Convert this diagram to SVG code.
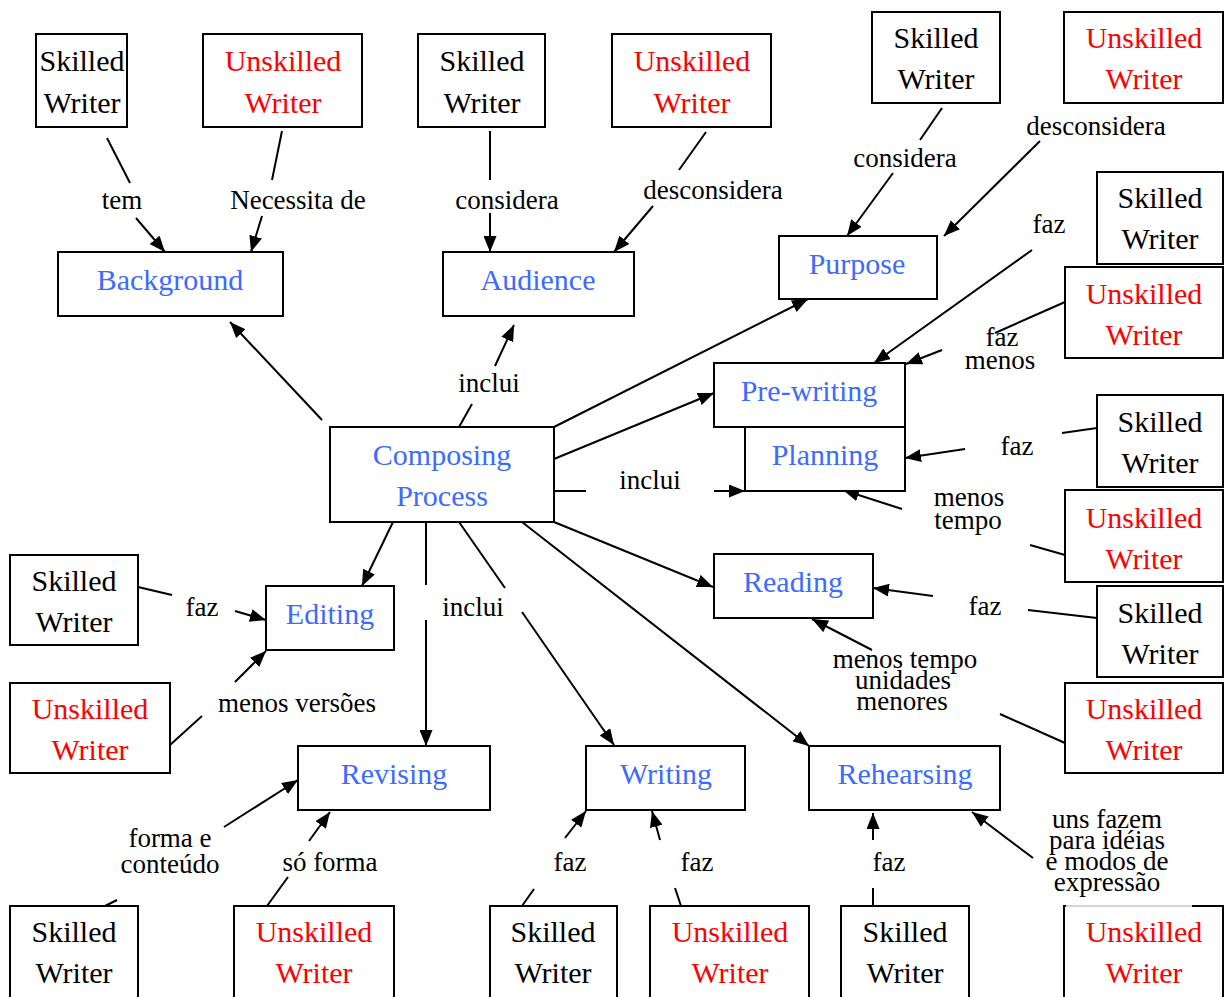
<svg xmlns="http://www.w3.org/2000/svg" width="1230" height="997" viewBox="0 0 1230 997" font-family="'Liberation Serif', 'Times New Roman', 'DejaVu Serif', serif">
<defs>
<marker id="ah" markerUnits="userSpaceOnUse" markerWidth="17" markerHeight="13" refX="16" refY="6.5" orient="auto">
<path d="M0,0 L16,6.5 L0,13 z" fill="#000"/>
</marker>
<style>
.box{fill:#fff;stroke:#000;stroke-width:2}
text{font-family:'Liberation Serif','Times New Roman','DejaVu Serif',serif;text-anchor:middle;dominant-baseline:central}
.n{font-size:30px;fill:#000}
.u{font-size:30px;fill:#ff0000}
.c{font-size:30px;fill:#3d6bff}
.l{font-size:27px;fill:#000}
.e{stroke:#000;stroke-width:2;fill:none}
.a{stroke:#000;stroke-width:2;fill:none;marker-end:url(#ah)}
</style>
</defs>
<rect width="1230" height="997" fill="#fff"/>

<g id="connectors">
<line class="e" x1="107" y1="138" x2="130" y2="183"/>
<line class="a" x1="136" y1="218" x2="165" y2="252"/>
<line class="e" x1="282" y1="131" x2="272" y2="180"/>
<line class="a" x1="262" y1="216" x2="251" y2="252"/>
<line class="e" x1="490" y1="131" x2="490" y2="180"/>
<line class="a" x1="490" y1="213" x2="490" y2="252"/>
<line class="e" x1="706" y1="132" x2="679" y2="170"/>
<line class="a" x1="653" y1="206" x2="614" y2="252"/>
<line class="e" x1="942" y1="108" x2="920" y2="140"/>
<line class="a" x1="893" y1="173" x2="847" y2="236"/>
<line class="a" x1="1040" y1="141" x2="944" y2="236"/>
<line class="a" x1="322" y1="420" x2="230" y2="322"/>
<line class="e" x1="459" y1="427" x2="472" y2="404"/>
<line class="a" x1="495" y1="366" x2="514" y2="325"/>
<line class="a" x1="554" y1="427" x2="808" y2="299"/>
<line class="a" x1="554" y1="459" x2="714" y2="393"/>
<line class="e" x1="554" y1="491" x2="586" y2="491"/>
<line class="a" x1="714" y1="491" x2="745" y2="491"/>
<line class="a" x1="554" y1="522" x2="713" y2="587"/>
<line class="a" x1="522" y1="522" x2="809" y2="746"/>
<line class="e" x1="459" y1="522" x2="505" y2="588"/>
<line class="a" x1="522" y1="612" x2="614" y2="745"/>
<line class="e" x1="426" y1="522" x2="426" y2="585"/>
<line class="a" x1="426" y1="620" x2="426" y2="746"/>
<line class="a" x1="393" y1="522" x2="362" y2="586"/>
<line class="a" x1="1032" y1="250" x2="874" y2="363"/>
<line class="e" x1="1065" y1="302" x2="995" y2="333"/>
<line class="a" x1="942" y1="350" x2="906" y2="364"/>
<line class="e" x1="1097" y1="428" x2="1062" y2="433"/>
<line class="a" x1="965" y1="449" x2="905" y2="458"/>
<line class="e" x1="1065" y1="555" x2="1030" y2="545"/>
<line class="a" x1="902" y1="509" x2="843" y2="490"/>
<line class="e" x1="1097" y1="618" x2="1028" y2="610"/>
<line class="a" x1="933" y1="596" x2="873" y2="588"/>
<line class="e" x1="1065" y1="743" x2="1000" y2="714"/>
<line class="a" x1="872" y1="650" x2="812" y2="619"/>
<line class="e" x1="873" y1="906" x2="873" y2="888"/>
<line class="a" x1="873" y1="840" x2="873" y2="813"/>
<line class="a" x1="1033" y1="858" x2="972" y2="812"/>
<line class="e" x1="522" y1="906" x2="534" y2="889"/>
<line class="a" x1="565" y1="838" x2="586" y2="811"/>
<line class="e" x1="681" y1="906" x2="675" y2="888"/>
<line class="a" x1="660" y1="840" x2="652" y2="811"/>
<line class="e" x1="105" y1="906" x2="117" y2="900"/>
<line class="a" x1="224" y1="827" x2="298" y2="780"/>
<line class="e" x1="267" y1="906" x2="288" y2="877"/>
<line class="a" x1="309" y1="841" x2="330" y2="812"/>
<line class="e" x1="138" y1="587" x2="172" y2="595"/>
<line class="a" x1="235" y1="611" x2="266" y2="620"/>
<line class="e" x1="170" y1="745" x2="202" y2="716"/>
<line class="a" x1="235" y1="682" x2="266" y2="651"/>
</g>

<g id="labels">
<text class="l" x="122" y="200">tem</text>
<text class="l" x="298" y="200">Necessita de</text>
<text class="l" x="507" y="200">considera</text>
<text class="l" x="713" y="190">desconsidera</text>
<text class="l" x="905" y="158">considera</text>
<text class="l" x="1096" y="126">desconsidera</text>
<text class="l" x="1049" y="224">faz</text>
<text class="l" x="1002" y="337">faz</text>
<text class="l" x="1000" y="360">menos</text>
<text class="l" x="489" y="383">inclui</text>
<text class="l" x="650" y="480">inclui</text>
<text class="l" x="1017" y="446">faz</text>
<text class="l" x="969" y="497">menos</text>
<text class="l" x="968" y="520">tempo</text>
<text class="l" x="985" y="606">faz</text>
<text class="l" x="905" y="659">menos tempo</text>
<text class="l" x="903" y="680">unidades</text>
<text class="l" x="902" y="701">menores</text>
<text class="l" x="473" y="607">inclui</text>
<text class="l" x="202" y="607">faz</text>
<text class="l" x="297" y="703">menos versões</text>
<text class="l" x="170" y="838">forma e</text>
<text class="l" x="170" y="864">conteúdo</text>
<text class="l" x="330" y="862">só forma</text>
<text class="l" x="570" y="862">faz</text>
<text class="l" x="697" y="862">faz</text>
<text class="l" x="889" y="862">faz</text>
<text class="l" x="1107" y="819">uns fazem</text>
<text class="l" x="1107" y="840">para idéias</text>
<text class="l" x="1107" y="861">e modos de</text>
<text class="l" x="1107" y="882">expressão</text>
</g>

<g id="background"><rect class="box" x="58" y="252" width="225" height="64"/><text class="c" x="170" y="279">Background</text></g>
<g id="audience"><rect class="box" x="443" y="252" width="191" height="64"/><text class="c" x="538" y="279">Audience</text></g>
<g id="purpose"><rect class="box" x="779" y="236" width="158" height="63"/><text class="c" x="857" y="263">Purpose</text></g>
<g id="prewriting"><rect class="box" x="714" y="363" width="191" height="64"/><text class="c" x="809" y="390">Pre-writing</text></g>
<g id="planning"><rect class="box" x="745" y="427" width="160" height="64"/><text class="c" x="825" y="454">Planning</text></g>
<g id="composing"><rect class="box" x="330" y="427" width="224" height="95"/><text class="c" x="442" y="454">Composing</text><text class="c" x="442" y="495">Process</text></g>
<g id="reading"><rect class="box" x="714" y="554" width="159" height="64"/><text class="c" x="793" y="581">Reading</text></g>
<g id="editing"><rect class="box" x="266" y="586" width="128" height="64"/><text class="c" x="330" y="613">Editing</text></g>
<g id="revising"><rect class="box" x="298" y="746" width="192" height="64"/><text class="c" x="394" y="773">Revising</text></g>
<g id="writing"><rect class="box" x="586" y="746" width="159" height="64"/><text class="c" x="666" y="773">Writing</text></g>
<g id="rehearsing"><rect class="box" x="809" y="746" width="191" height="64"/><text class="c" x="905" y="773">Rehearsing</text></g>

<g id="sw1"><rect class="box" x="36" y="34" width="91" height="93"/><text class="n" x="82" y="60">Skilled</text><text class="n" x="82" y="102">Writer</text></g>
<g id="uw1"><rect class="box" x="203" y="34" width="159" height="93"/><text class="u" x="283" y="60">Unskilled</text><text class="u" x="283" y="102">Writer</text></g>
<g id="sw2"><rect class="box" x="418" y="34" width="127" height="93"/><text class="n" x="482" y="60">Skilled</text><text class="n" x="482" y="102">Writer</text></g>
<g id="uw2"><rect class="box" x="612" y="34" width="159" height="93"/><text class="u" x="692" y="60">Unskilled</text><text class="u" x="692" y="102">Writer</text></g>
<g id="sw3"><rect class="box" x="872" y="12" width="128" height="91"/><text class="n" x="936" y="37">Skilled</text><text class="n" x="936" y="78">Writer</text></g>
<g id="uw3"><rect class="box" x="1064" y="12" width="159" height="91"/><text class="u" x="1144" y="37">Unskilled</text><text class="u" x="1144" y="78">Writer</text></g>
<g id="sw4"><rect class="box" x="1097" y="172" width="126" height="92"/><text class="n" x="1160" y="197">Skilled</text><text class="n" x="1160" y="238">Writer</text></g>
<g id="uw4"><rect class="box" x="1065" y="267" width="158" height="91"/><text class="u" x="1144" y="293">Unskilled</text><text class="u" x="1144" y="334">Writer</text></g>
<g id="sw5"><rect class="box" x="1097" y="395" width="126" height="92"/><text class="n" x="1160" y="421">Skilled</text><text class="n" x="1160" y="462">Writer</text></g>
<g id="uw5"><rect class="box" x="1065" y="490" width="158" height="92"/><text class="u" x="1144" y="517">Unskilled</text><text class="u" x="1144" y="558">Writer</text></g>
<g id="sw6"><rect class="box" x="1097" y="586" width="126" height="91"/><text class="n" x="1160" y="612">Skilled</text><text class="n" x="1160" y="653">Writer</text></g>
<g id="uw6"><rect class="box" x="1065" y="683" width="158" height="90"/><text class="u" x="1144" y="708">Unskilled</text><text class="u" x="1144" y="749">Writer</text></g>
<g id="sw7"><rect class="box" x="10" y="555" width="128" height="90"/><text class="n" x="74" y="580">Skilled</text><text class="n" x="74" y="621">Writer</text></g>
<g id="uw7"><rect class="box" x="10" y="683" width="160" height="90"/><text class="u" x="90" y="708">Unskilled</text><text class="u" x="90" y="749">Writer</text></g>
<g id="sw8"><rect class="box" x="10" y="906" width="128" height="95"/><text class="n" x="74" y="931">Skilled</text><text class="n" x="74" y="972">Writer</text></g>
<g id="uw8"><rect class="box" x="234" y="906" width="160" height="95"/><text class="u" x="314" y="931">Unskilled</text><text class="u" x="314" y="972">Writer</text></g>
<g id="sw9"><rect class="box" x="490" y="906" width="127" height="95"/><text class="n" x="553" y="931">Skilled</text><text class="n" x="553" y="972">Writer</text></g>
<g id="uw9"><rect class="box" x="650" y="906" width="159" height="95"/><text class="u" x="730" y="931">Unskilled</text><text class="u" x="730" y="972">Writer</text></g>
<g id="sw10"><rect class="box" x="841" y="906" width="128" height="95"/><text class="n" x="905" y="931">Skilled</text><text class="n" x="905" y="972">Writer</text></g>
<g id="uw10"><rect class="box" x="1064" y="906" width="159" height="95"/><line x1="1066" y1="906" x2="1192" y2="906" stroke="#fff" stroke-width="2.5"/><line x1="1066" y1="906" x2="1192" y2="906" stroke="#aaa" stroke-width="1"/><text class="u" x="1144" y="931">Unskilled</text><text class="u" x="1144" y="972">Writer</text></g>
</svg>
